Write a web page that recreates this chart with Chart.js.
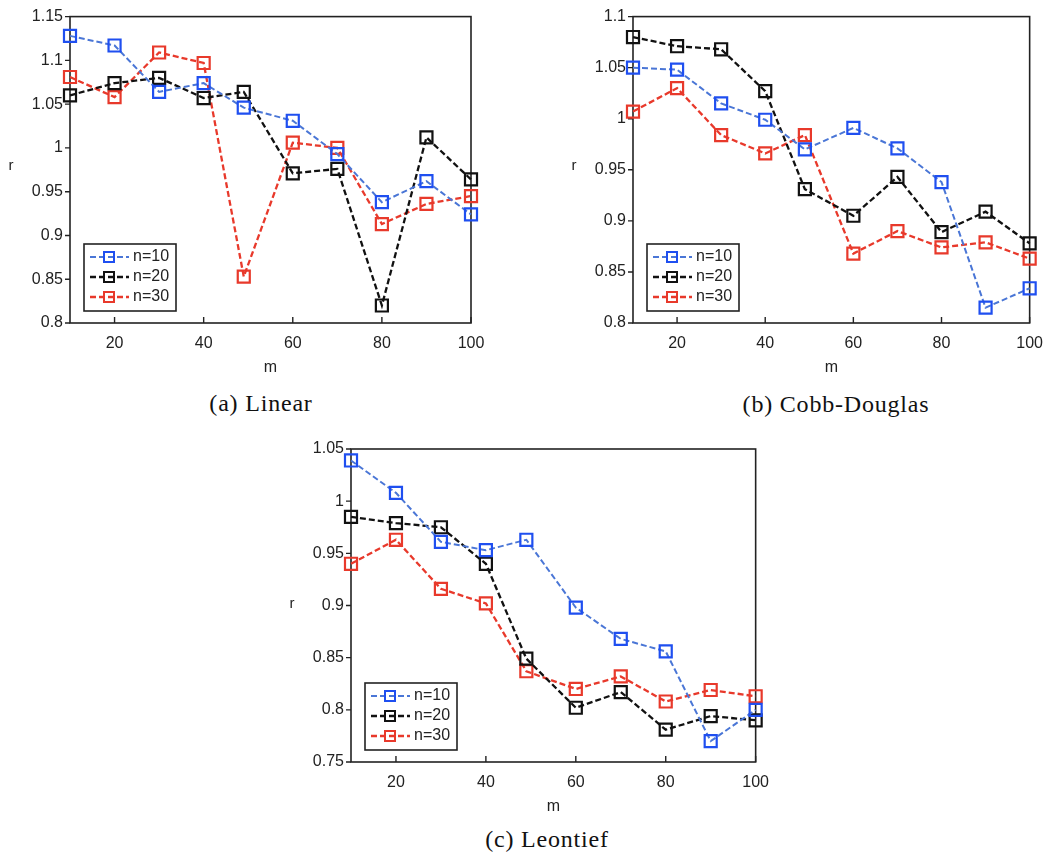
<!DOCTYPE html>
<html><head><meta charset="utf-8">
<script src="https://cdn.jsdelivr.net/npm/chart.js@4/dist/chart.umd.min.js"></script>
<style>
body{margin:0;background:#fff;width:1054px;height:853px;position:relative;overflow:hidden}
canvas{position:absolute}
.cap{position:absolute;font-family:'Liberation Serif','Times New Roman',serif;font-size:24px;letter-spacing:0.8px;color:#111;transform:translate(-50%,-50%);white-space:nowrap}
.rl{position:absolute;font-family:'Liberation Sans',Arial,sans-serif;font-size:15px;color:#222;transform:translate(-50%,-50%)}
</style></head><body>
<canvas id="ca" width="500" height="385" style="left:0;top:0"></canvas>
<canvas id="cb" width="534" height="385" style="left:520px;top:0"></canvas>
<canvas id="cc" width="500" height="395" style="left:280px;top:430px"></canvas>
<div class="rl" style="left:11px;top:164px">r</div>
<div class="rl" style="left:574px;top:164px">r</div>
<div class="rl" style="left:292px;top:602px">r</div>
<div class="cap" style="left:261px;top:403px">(a) Linear</div>
<div class="cap" style="left:836px;top:404px">(b) Cobb-Douglas</div>
<div class="cap" style="left:547px;top:839px">(c) Leontief</div>
<script>
// ---- data ----
const mValues = [10, 20, 30, 40, 49, 60, 70, 80, 90, 100];
const xTickValues = [20, 40, 60, 80, 100];
const seriesLabels = ['n=10', 'n=20', 'n=30'];
const xTitle = 'm';

const linearN10 = [1.128, 1.117, 1.064, 1.074, 1.046, 1.031, 0.993, 0.938, 0.962, 0.924];
const linearN20 = [1.060, 1.074, 1.080, 1.057, 1.064, 0.971, 0.976, 0.820, 1.012, 0.964];
const linearN30 = [1.081, 1.058, 1.109, 1.097, 0.853, 1.006, 1.000, 0.913, 0.936, 0.945];

const cobbN10 = [1.050, 1.048, 1.015, 0.999, 0.970, 0.991, 0.971, 0.938, 0.815, 0.834];
const cobbN20 = [1.080, 1.071, 1.068, 1.027, 0.931, 0.905, 0.943, 0.889, 0.909, 0.878];
const cobbN30 = [1.007, 1.030, 0.984, 0.966, 0.984, 0.868, 0.890, 0.874, 0.879, 0.863];

const leonN10 = [1.039, 1.008, 0.961, 0.953, 0.963, 0.898, 0.868, 0.856, 0.770, 0.800];
const leonN20 = [0.985, 0.979, 0.975, 0.940, 0.849, 0.802, 0.817, 0.781, 0.794, 0.790];
const leonN30 = [0.940, 0.963, 0.916, 0.902, 0.837, 0.820, 0.832, 0.808, 0.819, 0.813];

// ---- styles ----
const lineColors = ['#4a76d6', '#111111', '#e8392b'];
const markerColors = ['#1f4ff0', '#111111', '#e8392b'];
const lineWidths = [2, 2.3, 2.3];
const DASH = [6, 3];
const FONT = "'Liberation Sans', Arial, sans-serif";

const framePlugin = {
  id: 'frame',
  beforeDatasetsDraw(chart) {
    const {ctx, chartArea: a, scales: {x, y}} = chart;
    ctx.save();
    ctx.strokeStyle = '#222';
    ctx.lineWidth = 1.6;
    ctx.strokeRect(a.left, a.top, a.right - a.left, a.bottom - a.top);
    ctx.lineWidth = 1.4;
    ctx.beginPath();
    x.ticks.forEach(t => {
      const px = x.getPixelForValue(t.value);
      ctx.moveTo(px, a.bottom); ctx.lineTo(px, a.bottom - 6);
    });
    y.ticks.forEach(t => {
      const py = y.getPixelForValue(t.value);
      ctx.moveTo(a.left - 5, py); ctx.lineTo(a.left, py);
    });
    ctx.stroke();
    ctx.restore();
  }
};

const legendPlugin = {
  id: 'boxLegend',
  afterDatasetsDraw(chart) {
    const {ctx, chartArea: a} = chart;
    const W = 92, H = 67;
    const L = a.left + 14, T = a.bottom - 12 - H;
    ctx.save();
    ctx.fillStyle = '#fff';
    ctx.fillRect(L, T, W, H);
    ctx.strokeStyle = '#222';
    ctx.lineWidth = 1.6;
    ctx.strokeRect(L, T, W, H);
    chart.data.datasets.forEach((ds, i) => {
      const yy = T + 13 + i * 20;
      ctx.setLineDash(DASH);
      ctx.strokeStyle = ds.borderColor;
      ctx.lineWidth = ds.borderWidth;
      ctx.beginPath(); ctx.moveTo(L + 6, yy); ctx.lineTo(L + 45, yy); ctx.stroke();
      ctx.setLineDash([]);
      ctx.strokeStyle = ds.pointBorderColor;
      ctx.lineWidth = 2;
      ctx.strokeRect(L + 20, yy - 5, 10, 10);
      ctx.fillStyle = '#222';
      ctx.font = '16px ' + FONT;
      ctx.textBaseline = 'middle';
      ctx.textAlign = 'left';
      ctx.fillText(ds.label, L + 49, yy);
    });
    ctx.restore();
  }
};

function fmt(v) { return String(parseFloat(Number(v).toFixed(2))); }

function makeChart(id, series, yMin, yMax, geo) {
  const datasets = series.map((vals, i) => ({
    label: seriesLabels[i],
    data: mValues.map((m, k) => ({x: m, y: vals[k]})),
    borderColor: lineColors[i],
    borderWidth: lineWidths[i],
    borderDash: DASH,
    pointStyle: 'rect',
    pointRadius: 8.5,
    pointHoverRadius: 8.5,
    pointBorderWidth: 2.2,
    pointBorderColor: markerColors[i],
    pointBackgroundColor: 'rgba(0,0,0,0)',
    tension: 0,
    clip: false
  }));
  return new Chart(document.getElementById(id), {
    type: 'line',
    data: {datasets},
    plugins: [framePlugin, legendPlugin],
    options: {
      responsive: false,
      animation: false,
      events: [],
      layout: {padding: {top: geo.top, right: geo.right, left: 0, bottom: 0}},
      plugins: {legend: {display: false}, tooltip: {enabled: false}},
      scales: {
        x: {
          type: 'linear', min: 10, max: 100,
          afterBuildTicks: s => { s.ticks = xTickValues.map(v => ({value: v})); },
          afterFit: s => { s.height = geo.xh; },
          grid: {display: false, drawTicks: false},
          border: {display: false},
          ticks: {padding: 11, color: '#222', font: {family: FONT, size: 16}, maxRotation: 0,
                  callback: v => String(v)},
          title: {display: true, text: xTitle, color: '#222', font: {family: FONT, size: 16},
                  padding: {top: 0, bottom: geo.mOff}}
        },
        y: {
          type: 'linear', min: yMin, max: yMax,
          afterFit: s => { s.width = geo.yw; },
          grid: {display: false, drawTicks: false},
          border: {display: false},
          ticks: {stepSize: 0.05, padding: 7, color: '#222', font: {family: FONT, size: 16},
                  callback: v => fmt(v)}
        }
      }
    }
  });
}

makeChart('ca', [linearN10, linearN20, linearN30], 0.8, 1.15, {top: 14, right: 29, xh: 62, yw: 70, mOff: 8});
makeChart('cb', [cobbN10, cobbN20, cobbN30], 0.8, 1.1, {top: 10, right: 15, xh: 62, yw: 113, mOff: 8});
makeChart('cc', [leonN10, leonN20, leonN30], 0.75, 1.05, {top: 19, right: 24, xh: 63, yw: 71, mOff: 9});
</script>
</body></html>
